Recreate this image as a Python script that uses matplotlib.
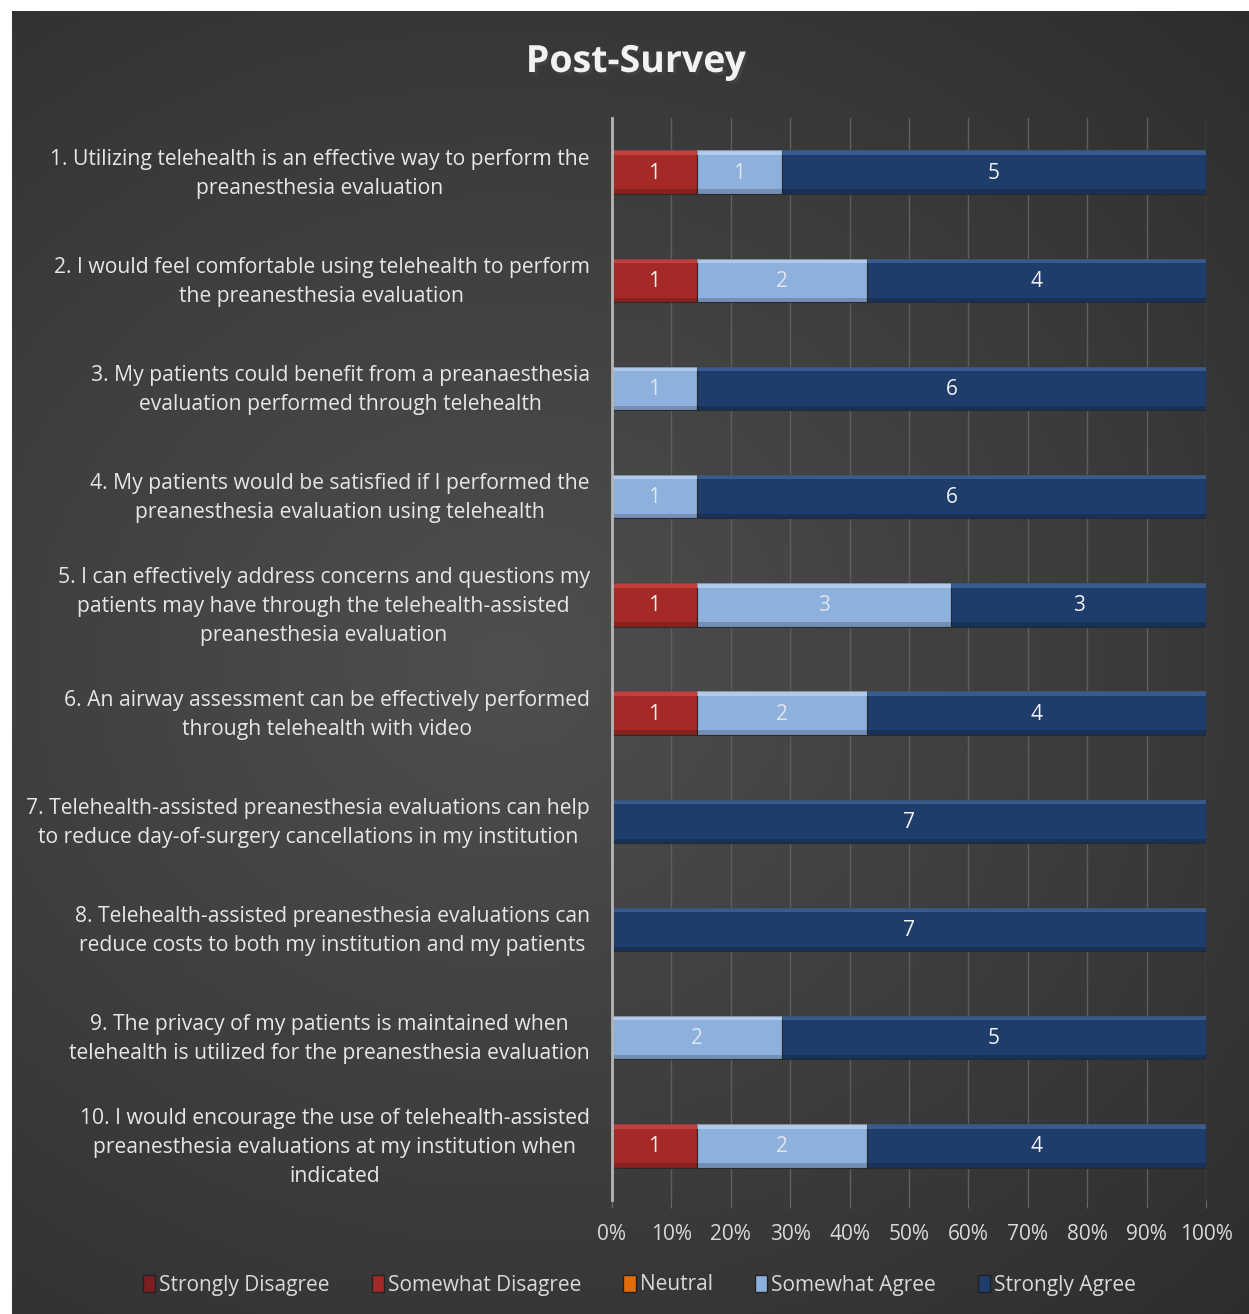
import matplotlib
matplotlib.use("Agg")
import matplotlib.pyplot as plt
import matplotlib.patheffects as pe
from matplotlib.patches import Patch
import numpy as np

plt.rcParams['font.family'] = ['Open Sans', 'DejaVu Sans']

questions = [
    "1. Utilizing telehealth is an effective way to perform the\npreanesthesia evaluation",
    "2. I would feel comfortable using telehealth to perform\nthe preanesthesia evaluation",
    "3. My patients could benefit from a preanaesthesia\nevaluation performed through telehealth",
    "4. My patients would be satisfied if I performed the\npreanesthesia evaluation using telehealth",
    "5. I can effectively address concerns and questions my\npatients may have through the telehealth-assisted\npreanesthesia evaluation",
    "6. An airway assessment can be effectively performed\nthrough telehealth with video",
    "7. Telehealth-assisted preanesthesia evaluations can help\nto reduce day-of-surgery cancellations in my institution",
    "8. Telehealth-assisted preanesthesia evaluations can\nreduce costs to both my institution and my patients",
    "9. The privacy of my patients is maintained when\ntelehealth is utilized for the preanesthesia evaluation",
    "10. I would encourage the use of telehealth-assisted\npreanesthesia evaluations at my institution when\nindicated",
]
series_names = ["Strongly Disagree", "Somewhat Disagree", "Neutral",
                "Somewhat Agree", "Strongly Agree"]
strongly_disagree = [0, 0, 0, 0, 0, 0, 0, 0, 0, 0]
somewhat_disagree = [1, 1, 0, 0, 1, 1, 0, 0, 0, 1]
neutral = [0, 0, 0, 0, 0, 0, 0, 0, 0, 0]
somewhat_agree = [1, 2, 1, 1, 3, 2, 0, 0, 2, 2]
strongly_agree = [5, 4, 6, 6, 3, 4, 7, 7, 5, 4]
xtick_labels = ["0%", "10%", "20%", "30%", "40%", "50%", "60%", "70%", "80%", "90%", "100%"]

colors = ["#7a1f1f", "#a52a27", "#e36c0a", "#8db0dc", "#1e3d6b"]
highlights = ["#9c3030", "#d8504c", "#f79646", "#c6ddf5", "#4a70a6"]
label_colors = ["#eeeeee", "#eeeeee", "#eeeeee", "#dfe6ee", "#f2f2f2"]

data = np.array([strongly_disagree, somewhat_disagree, neutral,
                 somewhat_agree, strongly_agree], dtype=float)
pct = data / data.sum(axis=0)

fig = plt.figure(figsize=(12.49, 13.14), dpi=100)
fig.patch.set_facecolor("white")

# dark gradient panel, lighter around the middle-left
bg = fig.add_axes([12 / 1249, 0, 1 - 12 / 1249, 1 - 11 / 1314], zorder=-5)
yy, xx = np.mgrid[0:1:400j, 0:1:400j]
r = np.sqrt(((xx - 0.4) / 0.9) ** 2 + ((yy - 0.5) / 0.75) ** 2)
shade = np.clip(0.31 - 0.14 * r, 0.15, 0.31)
bg.imshow(np.dstack([shade, shade, shade]), extent=[0, 1, 0, 1], aspect="auto")
bg.set_axis_off()

ax = fig.add_axes([612 / 1249, 1 - 1200 / 1314, 594 / 1249, (1200 - 118) / 1314])
ax.patch.set_alpha(0)

y = np.arange(len(questions))
bar_h = 0.40
left = np.zeros(len(questions))
for i, name in enumerate(series_names):
    w = pct[i]
    ax.barh(y, w, left=left, height=bar_h, color=colors[i],
            edgecolor="#2a2a2a", linewidth=0.8, zorder=3)
    # soft bevel: light top strip, dark bottom strip
    ax.barh(y - bar_h / 2 + 0.02, w, left=left, height=0.04,
            color=highlights[i], linewidth=0, zorder=4, alpha=0.6)
    ax.barh(y + bar_h / 2 - 0.02, w, left=left, height=0.04,
            color="black", linewidth=0, zorder=4, alpha=0.18)
    for j in range(len(questions)):
        if data[i, j] > 0:
            ax.text(left[j] + w[j] / 2, y[j] + 0.01, f"{int(data[i, j])}",
                    ha="center", va="center", fontsize=15,
                    color=label_colors[i], zorder=5)
    left = left + w

ax.set_xlim(0, 1)
ax.set_ylim(len(questions) - 0.5, -0.5)
ax.set_xticks(np.linspace(0, 1, 11))
ax.set_xticklabels(xtick_labels, fontsize=15, color="#d9d9d9")
# ticks are invisible, so sit them a touch above the bar centre
ax.set_yticks(y - 0.045)
ax.set_yticklabels(questions, fontsize=15.2, color="#e6e6e6",
                   multialignment="center", linespacing=1.5)
ax.tick_params(axis="y", length=0, pad=16)
ax.tick_params(axis="x", length=6, color="#6a6a6a", pad=11)
ax.grid(axis="x", color="#5e5e5e", linewidth=1, zorder=0)
for s in ["top", "right", "bottom"]:
    ax.spines[s].set_visible(False)
ax.spines["left"].set_color("#b5b5b5")
ax.spines["left"].set_linewidth(2)
ax.spines["left"].set_zorder(6)

fig.text(0.509, 1 - 62 / 1314, "Post-Survey", ha="center", va="center",
         fontsize=27, fontweight="bold", color="#f2f2f2",
         path_effects=[pe.withSimplePatchShadow(offset=(2, -2), alpha=0.6)])

handles = [Patch(facecolor=c, edgecolor="#222222") for c in colors]
leg = fig.legend(handles, series_names, loc="center", ncol=5,
                 bbox_to_anchor=(0.512, 1 - 1285 / 1314), frameon=False,
                 fontsize=15, handlelength=0.6, handleheight=0.9,
                 handletextpad=0.2, columnspacing=2.0)
for t in leg.get_texts():
    t.set_color("#d9d9d9")

fig.savefig("out.png", dpi=100, facecolor=fig.get_facecolor())
